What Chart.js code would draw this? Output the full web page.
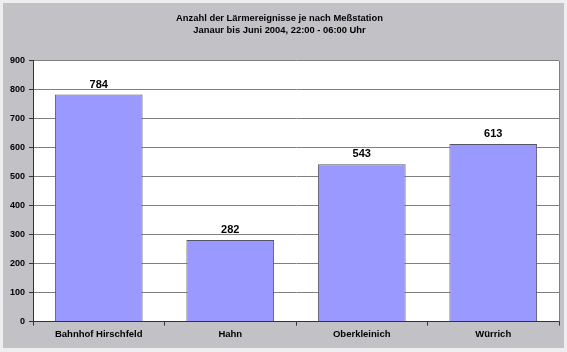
<!DOCTYPE html>
<html>
<head>
<meta charset="utf-8">
<script src="https://cdn.jsdelivr.net/npm/chart.js@4"></script>
<style>
html,body{margin:0;padding:0;background:#ececec;}
#wrap{position:relative;width:567px;height:352px;}
</style>
</head>
<body>
<div id="wrap"><canvas id="c" width="567" height="352"></canvas></div>
<script>
const categories = ['Bahnhof Hirschfeld', 'Hahn', 'Oberkleinich', 'Würrich'];
const values = [784, 282, 543, 613];
const yTicks = [0, 100, 200, 300, 400, 500, 600, 700, 800, 900];
const titleLines = ['Anzahl der Lärmereignisse je nach Meßstation', 'Janaur bis Juni 2004, 22:00 - 06:00 Uhr'];

const FONT = "'Liberation Sans', Arial, sans-serif";

const bgPlugin = {
  id: 'bg',
  beforeDraw(chart) {
    const ctx = chart.ctx;
    ctx.save();
    ctx.fillStyle = '#eeeeee';
    ctx.fillRect(0, 0, chart.width, chart.height);
    ctx.fillStyle = '#c2c1c6';
    ctx.fillRect(3, 3, chart.width - 6, chart.height - 7);
    const a = chart.chartArea;
    ctx.fillStyle = '#ffffff';
    ctx.fillRect(a.left, a.top, a.right - a.left, a.bottom - a.top);
    ctx.restore();
  },
  afterDraw(chart) {
    const ctx = chart.ctx;
    const a = chart.chartArea;
    ctx.save();
    ctx.strokeStyle = '#808080';
    ctx.lineWidth = 1;
    ctx.beginPath();
    ctx.moveTo(Math.round(a.right) + 0.5, a.top);
    ctx.lineTo(Math.round(a.right) + 0.5, a.bottom);
    ctx.stroke();
    ctx.restore();
  }
};

const labelPlugin = {
  id: 'vals',
  afterDatasetsDraw(chart) {
    const ctx = chart.ctx;
    const meta = chart.getDatasetMeta(0);
    ctx.save();
    ctx.font = 'bold 11px ' + FONT;
    ctx.fillStyle = '#000';
    ctx.textAlign = 'center';
    ctx.textBaseline = 'middle';
    meta.data.forEach((bar, i) => {
      ctx.fillText(String(values[i]), bar.x, bar.y - 10);
    });
    ctx.restore();
  }
};

new Chart(document.getElementById('c'), {
  type: 'bar',
  data: {
    labels: categories,
    datasets: [{
      data: values,
      backgroundColor: '#9999ff',
      borderColor: '#555566',
      borderWidth: 1,
      borderSkipped: 'bottom',
      categoryPercentage: 1,
      barPercentage: 0.667
    }]
  },
  options: {
    responsive: false,
    animation: false,
    layout: { padding: { left: 0, right: 8, top: 0, bottom: 9 } },
    plugins: {
      legend: { display: false },
      tooltip: { enabled: false },
      title: {
        display: true,
        text: titleLines,
        color: '#000',
        font: { family: FONT, size: 9.4, weight: 'bold', lineHeight: 1.3 },
        padding: { top: 12, bottom: 24.5 }
      }
    },
    scales: {
      x: {
        grid: { offset: true, drawOnChartArea: false, tickLength: 4, color: '#333333' },
        border: { color: '#333333' },
        ticks: { color: '#000', font: { family: FONT, size: 9.5, weight: 'bold' }, padding: 3, maxRotation: 0 }
      },
      y: {
        min: 0, max: 900,
        afterBuildTicks(scale) { scale.ticks = yTicks.map(v => ({ value: v })); },
        afterFit(scale) { scale.width = 33; },
        grid: { color: '#808080', tickLength: 4, tickColor: '#333333' },
        border: { color: '#333333' },
        ticks: { color: '#000', font: { family: FONT, size: 9, weight: 'bold' }, padding: 4 }
      }
    }
  },
  plugins: [bgPlugin, labelPlugin]
});
</script>
</body>
</html>
